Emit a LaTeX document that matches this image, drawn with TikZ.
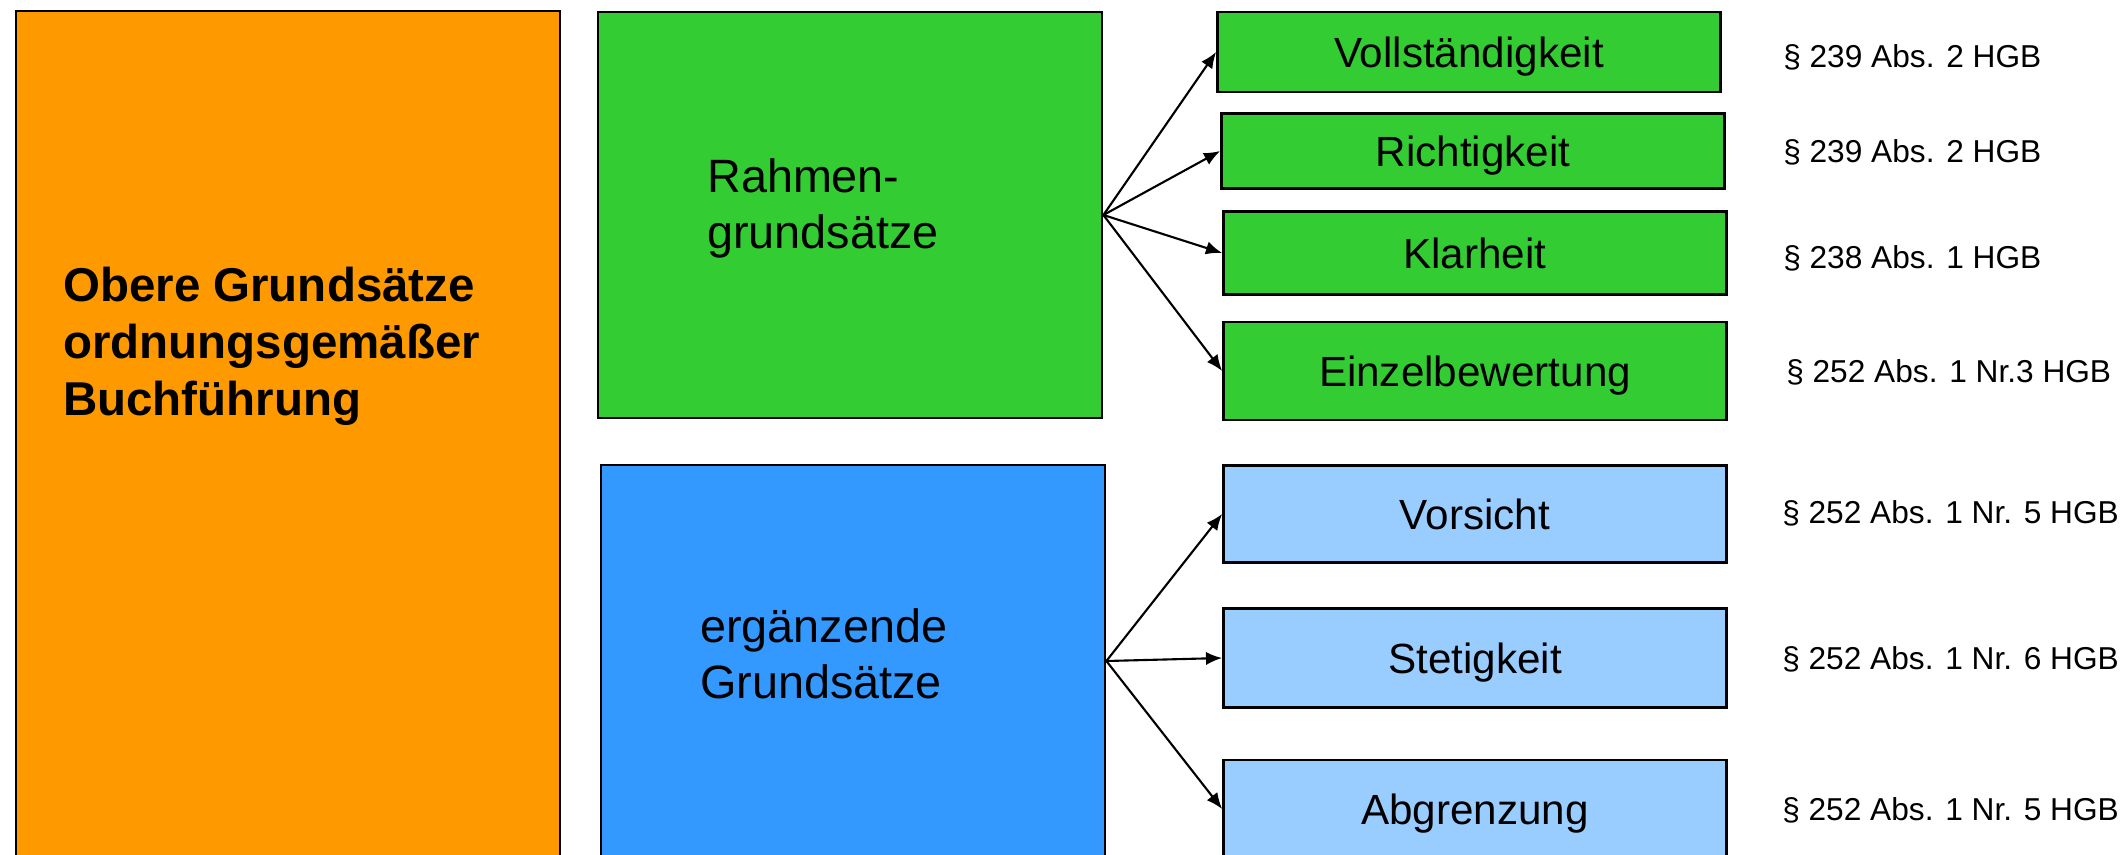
\documentclass[tikz,border=0pt]{standalone}
\usepackage{fontspec}
\setmainfont{Liberation Sans}
\usepackage{tikz}
\usetikzlibrary{arrows.meta}

\definecolor{orangebg}{HTML}{FF9900}
\definecolor{gruenbg}{HTML}{33CC33}
\definecolor{blaubg}{HTML}{3399FF}
\definecolor{hellblau}{HTML}{99CCFF}

\begin{document}
\begin{tikzpicture}[x=0.01cm,y=-0.01cm,>={Latex[length=4.6pt,width=3.8pt]},line width=0.7pt]
  \tikzstyle{kasten}=[draw,rectangle,inner sep=0pt,minimum width=5.03cm,
                      text height=10.8pt,text depth=2.2pt,
                      font=\fontsize{12}{14}\selectfont]
  \tikzstyle{gross}=[draw,rectangle,inner sep=0pt,minimum width=5.04cm]
  \tikzstyle{grosstext}=[anchor=west,align=left,inner sep=0pt,
                         font=\fontsize{13.3}{15.9}\selectfont]
  \tikzstyle{gesetz}=[anchor=base west,inner sep=0pt,font=\fontsize{9}{10}\selectfont]

  \useasboundingbox (0,0) rectangle (2128,854);
  \clip (0,0) rectangle (2128,854);

  % linke Spalte
  \node (obere) [draw,fill=orangebg,minimum width=5.44cm,minimum height=8.6cm] at (288,441) {};
  \node (oberetext) [anchor=west,align=left,inner sep=0pt,
                     font=\bfseries\fontsize{13.5}{16.2}\selectfont] at (62,346)
        {Obere Grundsätze\\ordnungsgemäßer\\Buchführung};

  % mittlere Spalte
  \node (rahmen) [gross,fill=gruenbg,minimum height=4.06cm] at (850,215) {};
  \node (rahmentext) [grosstext] at (706,208) {Rahmen-\\grundsätze};
  \node (ergaenz) [gross,fill=blaubg,minimum height=3.92cm] at (853,661) {};
  \node (ergaenztext) [grosstext] at (699,654) {ergänzende\\Grundsätze};

  % rechte Spalte
  \node (voll) [kasten,fill=gruenbg,minimum height=0.8cm] at (1469,52) {Vollständigkeit};
  \node (richtig) [kasten,fill=gruenbg,minimum height=0.75cm] at (1473,151) {Richtigkeit};
  \node (klar) [kasten,fill=gruenbg,minimum height=0.83cm] at (1475,253) {Klarheit};
  \node (einzel) [kasten,fill=gruenbg,minimum height=0.98cm] at (1475,371) {Einzelbewertung};
  \node (vorsicht) [kasten,fill=hellblau,minimum height=0.97cm] at (1475,514) {Vorsicht};
  \node (stetig) [kasten,fill=hellblau,minimum height=0.99cm] at (1475,658) {Stetigkeit};
  \node (abgrenz) [kasten,fill=hellblau,minimum height=0.98cm] at (1475,809) {Abgrenzung};

  \node (g1) [gesetz] at (1782,67) {§ 239 Abs. 2 HGB};
  \node (g2) [gesetz] at (1782,162) {§ 239 Abs. 2 HGB};
  \node (g3) [gesetz] at (1782,268) {§ 238 Abs. 1 HGB};
  \node (g4) [gesetz] at (1785,382) {§ 252 Abs. 1 Nr.3 HGB};
  \node (g5) [gesetz] at (1781,523) {§ 252 Abs. 1 Nr. 5 HGB};
  \node (g6) [gesetz] at (1781,669) {§ 252 Abs. 1 Nr. 6 HGB};
  \node (g7) [gesetz] at (1781,820) {§ 252 Abs. 1 Nr. 5 HGB};

  \path[->,line width=0.6pt]
    (rahmen.east) edge (voll.west)
                  edge (richtig.west)
                  edge (klar.west)
                  edge (einzel.west)
    (ergaenz.east) edge (vorsicht.west)
                   edge (stetig.west)
                   edge (abgrenz.west);

\end{tikzpicture}
\end{document}
